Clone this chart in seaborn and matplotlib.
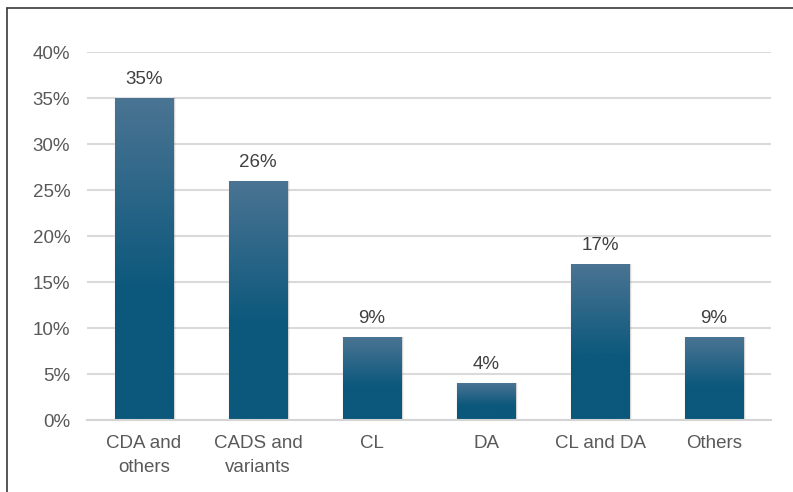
import numpy as np
import pandas as pd
import matplotlib
matplotlib.use("Agg")
import matplotlib.pyplot as plt
from matplotlib.patches import Rectangle
from matplotlib.lines import Line2D
from matplotlib.colors import LinearSegmentedColormap
import seaborn as sns

categories = ["CDA and\nothers", "CADS and\nvariants", "CL", "DA", "CL and DA", "Others"]
shares = [35, 26, 9, 4, 17, 9]
y_ticks = [0, 5, 10, 15, 20, 25, 30, 35, 40]

sns.set_theme(style="white")
plt.rcParams["font.family"] = ["Liberation Sans", "DejaVu Sans"]

TEXT = "#595959"
TOP = "#4b7493"
BOTTOM = "#0b587c"
FS = 13.5

df = pd.DataFrame({"category": categories, "share": shares})

fig = plt.figure(figsize=(7.93, 4.92), dpi=100)
ax = fig.add_axes([0.1097, 0.1463, 0.8626, 0.748])

sns.barplot(data=df, x="category", y="share", color=BOTTOM, width=0.51,
            saturation=1, ax=ax, zorder=3)

ax.set_ylim(0, 40)
ax.set_xlim(-0.5, len(categories) - 0.5)
ax.set_yticks(y_ticks)
ax.set_yticklabels([f"{t}%" for t in y_ticks])
ax.set_xlabel("")
ax.set_ylabel("")
ax.tick_params(axis="y", length=0, pad=12, labelsize=FS, labelcolor=TEXT)
ax.tick_params(axis="x", length=0, pad=11, labelsize=FS, labelcolor=TEXT)
for lbl in ax.get_xticklabels():
    lbl.set_linespacing(1.5)

ax.grid(axis="y", color="#dadada", linewidth=1.5, zorder=0)
ax.grid(axis="x", visible=False)
for side in ["left", "right", "top"]:
    ax.spines[side].set_visible(False)
ax.spines["bottom"].set_color("#d4d4d4")
ax.spines["bottom"].set_linewidth(1.5)
ax.spines["bottom"].set_zorder(4)

# vertical gradient: lighter steel blue at the top, deep blue from mid-bar down
grad_cmap = LinearSegmentedColormap.from_list("bar_grad", [(0, BOTTOM), (0.4, BOTTOM), (1, TOP)])
grad = np.linspace(0, 1, 256).reshape(-1, 1)

bars = list(ax.patches)
for bar in bars:
    x0, w, h = bar.get_x(), bar.get_width(), bar.get_height()
    # soft drop shadow
    for k, a in zip([0.012, 0.022, 0.032], [0.10, 0.07, 0.04]):
        ax.add_patch(Rectangle((x0 - k * 0.4 + 0.006, -0.35), w + k * 0.8 + 0.006, h + 0.35,
                               facecolor="#000000", alpha=a, edgecolor="none", zorder=2))
    im = ax.imshow(grad, cmap=grad_cmap, aspect="auto", origin="lower",
                   extent=[x0, x0 + w, 0, h], zorder=3.5, interpolation="bicubic")
    im.set_clip_path(bar)

ax.set_xlim(-0.5, len(categories) - 0.5)
ax.set_ylim(0, 40)

ax.bar_label(ax.containers[0], labels=[f"{v}%" for v in shares], padding=7,
             fontsize=FS, color="#404040")

# outer frame on the left and top edges
fig.add_artist(Line2D([0.0088, 0.0088], [0, 0.984], transform=fig.transFigure,
                      color="#3a3a3a", linewidth=1.2))
fig.add_artist(Line2D([0.0088, 1.0], [0.984, 0.984], transform=fig.transFigure,
                      color="#3a3a3a", linewidth=1.2))

fig.savefig("out.png", dpi=100)
